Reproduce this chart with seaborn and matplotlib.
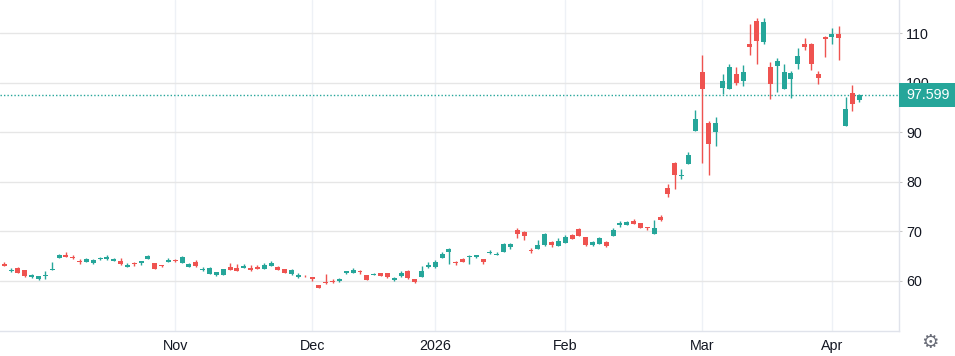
import numpy as np
import pandas as pd
import seaborn as sns
import matplotlib.pyplot as plt
from matplotlib.patches import Rectangle

# daily OHLC, one value per bar (oldest first)
opens = [63.4, 62.1, 62.6, 62.2, 60.8, 60.3, 61.0, 62.3, 64.7, 65.2,
         64.9, 64.1, 63.9, 63.6, 64.5, 64.5, 64.1, 64.0, 62.9, 63.6,
         63.6, 64.5, 63.6, 63.2, 63.9, 64.3, 63.7, 62.9, 63.8, 62.3,
         61.5, 61.2, 61.3, 62.8, 62.6, 62.6, 62.6, 62.8, 62.5, 63.1,
         62.8, 62.4, 61.5, 60.8, 61.1, 60.8, 59.2, 59.6, 60.0, 59.9,
         61.6, 61.7, 62.0, 61.2, 61.3, 61.7, 61.6, 60.1, 61.1, 62.0,
         60.4, 60.8, 62.8, 62.8, 64.7, 65.9, 63.7, 64.4, 64.8, 64.8,
         64.4, 65.6, 65.3, 65.9, 66.8, 70.3, 69.8, 66.3, 66.5, 67.3,
         67.8, 67.1, 67.7, 69.2, 70.5, 68.8, 67.3, 67.5, 67.8, 69.1,
         71.2, 71.2, 72.1, 71.7, 70.7, 69.5, 72.9, 78.8, 83.8, 81.2,
         83.7, 90.3, 102.1, 91.8, 90.1, 99.0, 98.8, 101.7, 100.3, 107.9,
         112.4, 108.2, 103.1, 103.4, 98.8, 100.8, 103.8, 107.9, 107.8, 101.7,
         109.2, 109.2, 109.8, 91.3, 97.9, 96.6]
highs = [63.8, 62.6, 62.8, 62.2, 61.4, 61.0, 62.0, 63.8, 65.5, 65.8,
         65.3, 64.4, 64.6, 64.5, 64.9, 65.3, 64.7, 64.7, 63.7, 63.8,
         64.0, 65.3, 63.6, 63.2, 64.7, 64.5, 65.0, 63.6, 64.2, 62.8,
         62.8, 61.9, 62.5, 63.6, 63.4, 63.5, 63.3, 63.3, 63.6, 64.0,
         63.0, 62.4, 62.4, 61.6, 61.3, 60.8, 59.2, 61.4, 60.4, 60.6,
         62.0, 62.6, 62.3, 61.2, 61.7, 61.7, 61.6, 60.8, 62.0, 62.3,
         60.4, 63.0, 63.8, 64.2, 65.9, 66.7, 64.0, 64.7, 65.2, 65.3,
         64.4, 66.2, 65.8, 67.7, 67.7, 70.6, 70.1, 66.7, 68.3, 69.7,
         68.1, 68.6, 69.2, 69.4, 70.7, 68.8, 68.0, 68.9, 68.0, 70.7,
         72.2, 72.0, 72.5, 71.7, 70.9, 72.3, 73.4, 79.6, 84.1, 82.6,
         86.1, 94.5, 105.6, 92.2, 93.0, 101.7, 103.8, 103.1, 103.5, 111.8,
         113.0, 113.0, 104.2, 105.0, 103.7, 102.3, 107.0, 109.0, 108.0, 102.3,
         109.4, 111.0, 111.4, 97.1, 99.5, 97.8]
lows = [63.0, 61.8, 61.6, 60.8, 60.6, 60.2, 60.3, 62.3, 64.7, 64.8,
        64.5, 63.4, 63.8, 63.5, 64.2, 64.2, 64.0, 63.3, 62.9, 63.1,
        63.2, 64.4, 62.4, 62.9, 63.9, 63.9, 63.6, 62.9, 62.9, 62.0,
        61.5, 60.9, 61.3, 62.3, 62.1, 62.6, 62.0, 62.4, 62.5, 63.0,
        62.3, 61.6, 61.3, 60.5, 60.8, 60.0, 58.5, 59.3, 59.6, 59.8,
        61.4, 61.6, 61.5, 60.1, 61.2, 61.1, 60.6, 60.0, 60.8, 60.4,
        59.6, 60.8, 62.7, 62.7, 64.6, 63.5, 63.2, 63.8, 63.5, 64.7,
        63.5, 65.5, 65.2, 65.9, 66.5, 68.6, 68.2, 65.6, 66.5, 67.1,
        66.9, 67.1, 67.7, 68.5, 69.1, 67.0, 67.0, 67.5, 66.9, 69.1,
        70.9, 71.2, 71.4, 70.6, 70.3, 69.5, 72.0, 76.9, 78.5, 80.5,
        83.7, 90.3, 83.9, 81.3, 87.2, 97.7, 98.8, 99.6, 99.4, 105.6,
        103.8, 107.8, 96.8, 98.2, 98.8, 97.0, 102.7, 106.6, 102.6, 99.8,
        105.2, 107.8, 104.6, 91.3, 94.3, 96.1]
closes = [63.1, 62.2, 61.7, 60.9, 61.2, 61.0, 61.1, 62.4, 65.3, 64.9,
          64.6, 63.8, 64.4, 64.3, 64.7, 64.9, 64.5, 63.4, 63.3, 63.5,
          64.0, 65.0, 62.5, 63.0, 64.3, 64.0, 64.8, 63.4, 63.1, 62.5,
          62.6, 61.8, 62.4, 62.3, 62.1, 63.1, 62.3, 62.5, 63.2, 63.7,
          62.3, 61.7, 62.2, 61.2, 60.9, 60.3, 58.6, 59.5, 59.7, 60.4,
          62.0, 62.3, 61.8, 60.1, 61.5, 61.1, 60.7, 60.6, 61.7, 60.5,
          59.7, 62.0, 63.2, 63.8, 65.4, 66.5, 63.6, 63.8, 65.0, 65.3,
          63.9, 65.9, 65.4, 67.4, 67.4, 69.4, 69.1, 66.1, 67.3, 69.5,
          67.3, 68.0, 68.8, 68.5, 69.1, 67.3, 67.8, 68.7, 67.1, 70.3,
          71.6, 71.8, 71.4, 70.6, 70.6, 70.7, 72.3, 77.5, 81.3, 81.4,
          85.4, 92.7, 98.8, 87.7, 91.8, 100.3, 103.1, 100.0, 102.1, 107.2,
          108.4, 112.2, 99.8, 104.4, 102.1, 101.9, 105.4, 107.2, 103.8, 101.0,
          108.9, 109.8, 109.1, 94.7, 95.8, 97.599]

month_labels = ["Nov", "Dec", "2026", "Feb", "Mar", "Apr"]
month_start_bar = [25, 45, 63, 82, 102, 121]
price_ticks = [60, 70, 80, 90, 100, 110]

UP = "#26a69a"
DOWN = "#ef5350"
TEXT = "#131722"

sns.set_theme(style="white")
plt.rcParams["font.family"] = ["Liberation Sans", "DejaVu Sans"]

df = pd.DataFrame({"open": opens, "high": highs, "low": lows, "close": closes})
df["bar"] = np.arange(len(df))
df["color"] = np.where(df["close"] >= df["open"], UP, DOWN)
df["body_lo"] = df[["open", "close"]].min(axis=1)
df["body_h"] = (df["close"] - df["open"]).abs().clip(lower=0.2)

W, H = 955, 356
fig = plt.figure(figsize=(W / 100, H / 100), dpi=100)
ax = fig.add_axes([0, 25 / H, 899 / W, 331 / H])

# wicks + bodies
ax.vlines(df["bar"], df["low"], df["high"], colors=df["color"], lw=1, zorder=3)
ax.bar(df["bar"], df["body_h"], bottom=df["body_lo"], width=0.73,
       color=df["color"], linewidth=0, zorder=4)

last = closes[-1]
ax.axhline(last, color=UP, lw=1, ls=(0, (1, 1.5)), zorder=2)

ax.set_xlim(-0.63, 130.8)
ax.set_ylim(49.9, 116.7)

ax.set_xticks(month_start_bar, month_labels)
ax.set_yticks(price_ticks)
ax.yaxis.tick_right()
ax.xaxis.grid(True, color="#eef1f6", lw=1)
ax.yaxis.grid(True, color="#e6e6e6", lw=1)
ax.set_axisbelow(True)

ax.tick_params(axis="y", length=2.5, width=0.75, color="#c8c8c8", pad=2.5,
               labelsize=10.3, labelcolor=TEXT)
ax.tick_params(axis="x", length=0, pad=5.5, labelsize=10.3, labelcolor=TEXT)

for side in ["top", "left"]:
    ax.spines[side].set_visible(False)
for side in ["right", "bottom"]:
    ax.spines[side].set_color("#e0e3eb")
    ax.spines[side].set_linewidth(1)

# last price label on the price scale
y_disp = ax.transData.transform((0, last))[1]
x1 = ax.get_position().x1
fig.add_artist(Rectangle((x1, (y_disp - 12) / H), 1 - x1, 24 / H,
                         transform=fig.transFigure, facecolor=UP,
                         edgecolor="none", zorder=5))
fig.text(906.5 / W, y_disp / H, f"{last:.3f}", color="white", fontsize=10.3,
         ha="left", va="center", zorder=6)

# settings gear
fig.text(930 / W, 13 / H, "\u2699", family="DejaVu Sans", fontsize=14,
         color="#6a6d78", ha="center", va="center")

fig.savefig("out.png", dpi=100)
